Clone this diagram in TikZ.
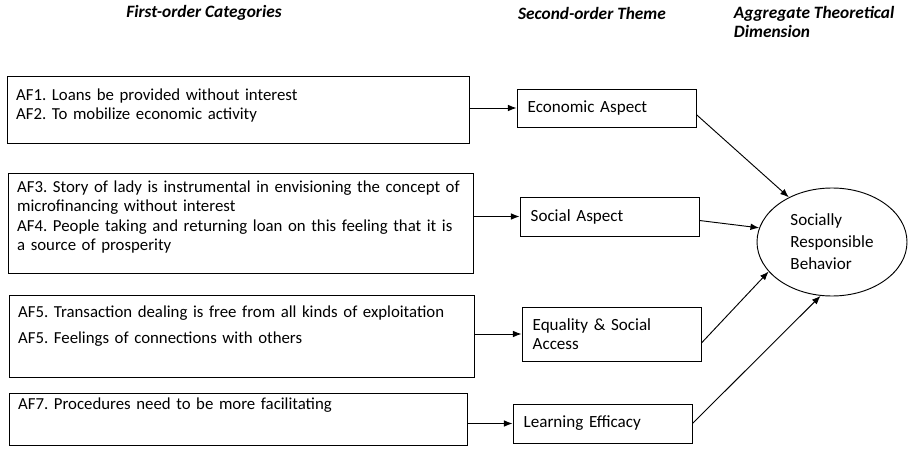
\documentclass[tikz,border=0pt]{standalone}
\usepackage{fontspec}
\setmainfont{Carlito}
\frenchspacing
\usetikzlibrary{shapes.geometric}
\usetikzlibrary{arrows.meta}

\begin{document}
\begin{tikzpicture}[x=0.75pt, y=-0.75pt, line width=0.7pt, font=\fontsize{12.8}{14.5}\selectfont,
        hdr/.style={font=\fontsize{13}{14.5}\selectfont\bfseries\itshape},
        catbox/.style={draw, anchor=north west, align=left, inner xsep=6.5pt, inner ysep=0pt,
            font=\fontsize{12.6}{14.5}\selectfont},
        themebox/.style={draw, align=left, minimum width=134.25pt, text width=118.25pt, inner xsep=8pt},
        arr/.style={-{Latex[length=6.5pt,width=5pt]}}]
    \useasboundingbox (0,0) rectangle (909,449);

    \node[hdr] (hfirst) at (204,13) {First-order Categories};
    \node[hdr] (hsecond) at (592,13) {Second-order Theme};
    \node[hdr, align=left, anchor=west] (haggr) at (729,22) {Aggregate Theoretical\\Dimension};

    \node[catbox, text width=333.5pt, text height=18pt, text depth=32.25pt] (af12) at (7,76)
        {AF1. Loans be provided without interest\\AF2. To mobilize economic activity};
    \node[catbox, text width=335.75pt, text height=14.25pt, text depth=60.75pt] (af34) at (8,173)
        {AF3. Story of lady is instrumental in envisioning the concept of\\microfinancing without interest\\AF4. People taking and returning loan on this feeling that it is\\a source of prosperity};
    \node[catbox, text width=335.75pt, text height=16.5pt, text depth=45pt] (af56) at (9,295)
        {AF5. Transaction dealing is free from all kinds of exploitation\\[5pt]AF5. Feelings of connections with others};
    \node[catbox, text width=330.5pt, text height=12pt, text depth=27pt] (af7) at (9,393)
        {AF7. Procedures need to be more facilitating};

    \node[themebox, minimum height=28.5pt] (econ) at (606.5,108) {Economic Aspect};
    \node[themebox, minimum height=29.25pt] (social) at (609.5,216.5) {Social Aspect};
    \node[themebox, minimum height=40.5pt] (equal) at (611.5,334) {Equality \& Social\\Access};
    \node[themebox, minimum height=29.25pt] (learn) at (602.5,423.5) {Learning Efficacy};

    \node[draw, ellipse, minimum width=112.5pt, minimum height=81pt, inner sep=0pt, align=left,
        font=\fontsize{12.8}{16.5}\selectfont] (srb) at (832,242) {Socially\\Responsible\\Behavior};

    \draw[arr] (econ.west -| af12.east) -- (econ.west);
    \draw[arr] (social.west -| af34.east) -- (social.west);
    \draw[arr] (equal.west -| af56.east) -- (equal.west);
    \draw[arr] (learn.west -| af7.east) -- (learn.west);

    \draw[arr] ([yshift=-5pt]econ.east) -- (srb.134);
    \draw[arr] ([yshift=-3pt]social.east) -- (srb.169);
    \draw[arr] ([yshift=-6.75pt]equal.east) -- (srb.205);
    \draw[arr] (learn.east) -- (srb.258);
\end{tikzpicture}
\end{document}
